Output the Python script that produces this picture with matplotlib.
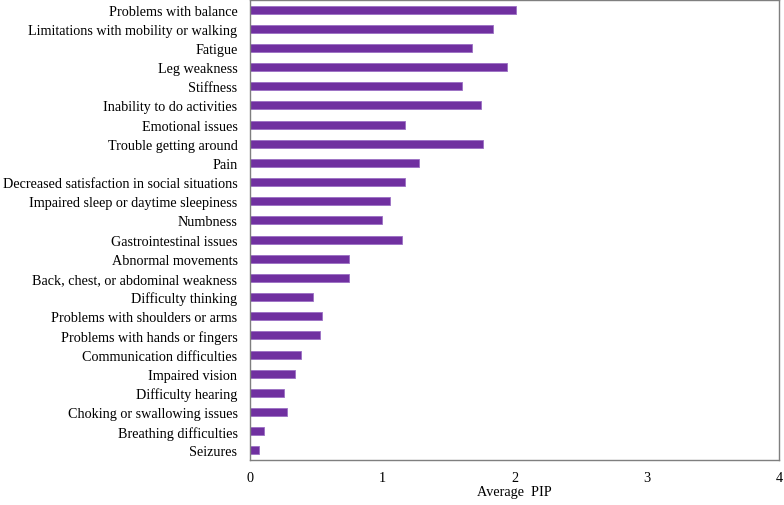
import matplotlib
matplotlib.use("Agg")
import matplotlib.pyplot as plt

categories = [
    "Problems with balance",
    "Limitations with mobility or walking",
    "Fatigue",
    "Leg weakness",
    "Stiffness",
    "Inability to do activities",
    "Emotional issues",
    "Trouble getting around",
    "Pain",
    "Decreased satisfaction in social situations",
    "Impaired sleep or daytime sleepiness",
    "Numbness",
    "Gastrointestinal issues",
    "Abnormal movements",
    "Back, chest, or abdominal weakness",
    "Difficulty thinking",
    "Problems with shoulders or arms",
    "Problems with hands or fingers",
    "Communication difficulties",
    "Impaired vision",
    "Difficulty hearing",
    "Choking or swallowing issues",
    "Breathing difficulties",
    "Seizures",
]
values = [2.01, 1.84, 1.68, 1.94, 1.605, 1.745, 1.17, 1.76, 1.275,
          1.17, 1.057, 1.0, 1.15, 0.747, 0.747, 0.478, 0.546,
          0.526, 0.385, 0.337, 0.257, 0.277, 0.108, 0.07]
xticks = [0, 1, 2, 3, 4]

plt.rcParams['font.family'] = ['Liberation Serif', 'DejaVu Serif']

fig = plt.figure(figsize=(7.84, 5.06), dpi=100)
ax = fig.add_axes([250/784, 45/506, 529/784, 460/506])

ypos = list(range(len(categories)))
ax.barh(ypos, values, height=0.42, color='#7030A0', edgecolor='#9b6fc4', linewidth=0.6)
ax.set_ylim(len(categories) - 0.5, -0.5)
ax.set_xlim(0, 4)
ax.set_yticks(ypos)
ax.set_yticklabels(categories, fontsize=10.2)
ax.set_xticks(xticks)
ax.set_xticklabels([str(t) for t in xticks], fontsize=10.2)
ax.tick_params(axis='y', length=0, pad=9)
ax.tick_params(axis='x', length=0, pad=8)
ax.set_xlabel("Average  PIP", fontsize=10.2, labelpad=1)
for s in ax.spines.values():
    s.set_color('#7f7f7f')
    s.set_linewidth(1.0)

fig.savefig("out.png", dpi=100)
